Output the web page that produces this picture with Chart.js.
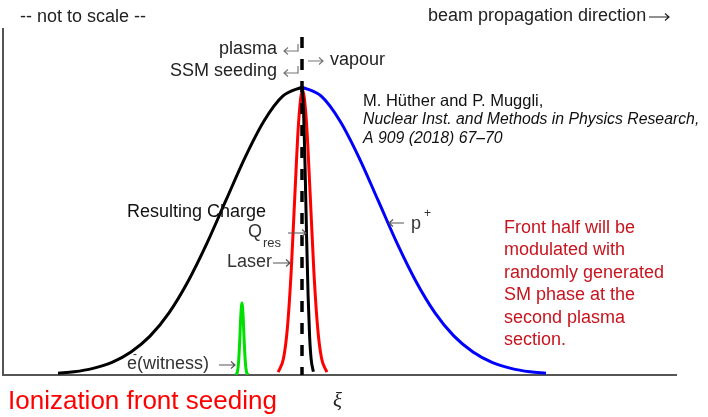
<!DOCTYPE html>
<html>
<head>
<meta charset="utf-8">
<script src="https://cdn.jsdelivr.net/npm/chart.js@4"></script>
<style>
  body { margin: 0; background: #fff; }
</style>
</head>
<body>
<canvas id="myChart" width="708" height="417"></canvas>
<script>
// xi axis in units of the proton bunch rms length, 0 = ionization front
var trailingX = [-3.21, -3.0, -2.75, -2.5, -2.25, -2.0, -1.75, -1.5, -1.25, -1.0, -0.75, -0.5, -0.25, 0];
var trailingY = [0.006, 0.011, 0.023, 0.044, 0.080, 0.135, 0.216, 0.325, 0.458, 0.607, 0.755, 0.882, 0.969, 1.0];
var frontX = [0, 0.25, 0.5, 0.75, 1.0, 1.25, 1.5, 1.75, 2.0, 2.25, 2.5, 2.75, 3.0, 3.21];
var frontY = [1.0, 0.969, 0.882, 0.755, 0.607, 0.458, 0.325, 0.216, 0.135, 0.080, 0.044, 0.023, 0.011, 0.006];
var laserX = [-0.313, -0.243, -0.193, -0.143, -0.093, -0.043, 0.007, 0.057, 0.107, 0.157, 0.207, 0.257, 0.327];
var laserY = [0.010, 0.058, 0.161, 0.356, 0.630, 0.884, 0.99, 0.884, 0.630, 0.356, 0.161, 0.058, 0.010];
var chargeX = [0, 0.02, 0.04, 0.06, 0.08, 0.10, 0.12, 0.15];
var chargeY = [1.0, 0.923, 0.726, 0.487, 0.278, 0.135, 0.056, 0.011];
var witnessX = [-0.87, -0.85, -0.835, -0.82, -0.805, -0.79, -0.775, -0.76, -0.745, -0.73, -0.71];
var witnessY = [0.001, 0.011, 0.043, 0.114, 0.206, 0.25, 0.206, 0.114, 0.043, 0.011, 0.001];
var frontLineY = [0, 1.174];
var xRange = [-3.934, 4.934];
var yRange = [0, 1.205];

function pts(xs, ys) {
    return xs.map(function(x, i){ return {x: x, y: ys[i]}; });
}

var fontSans = "'Liberation Sans', Arial, sans-serif";

function arrow(ctx, x1, y, x2, color) {
    var dir = x2 > x1 ? 1 : -1;
    ctx.save();
    ctx.strokeStyle = color;
    ctx.lineWidth = 1.2;
    ctx.beginPath();
    ctx.moveTo(x1, y);
    ctx.lineTo(x2, y);
    ctx.moveTo(x2 - dir * 4, y - 3.5);
    ctx.lineTo(x2, y);
    ctx.lineTo(x2 - dir * 4, y + 3.5);
    ctx.stroke();
    ctx.restore();
}

function text(ctx, str, x, y, size, color, align, style) {
    ctx.font = (style || '') + ' ' + size + 'px ' + fontSans;
    ctx.fillStyle = color;
    ctx.textAlign = align || 'left';
    ctx.textBaseline = 'middle';
    ctx.fillText(str, x, y);
}

var annotations = {
    id: 'annotations',
    beforeDatasetsDraw: function(chart) {
        var ctx = chart.ctx, a = chart.chartArea;
        ctx.save();
        ctx.strokeStyle = '#555';
        ctx.lineWidth = 2;
        ctx.beginPath();
        ctx.moveTo(a.left, a.top);
        ctx.lineTo(a.left, a.bottom);
        ctx.lineTo(a.right, a.bottom);
        ctx.stroke();
        ctx.restore();
    },
    afterDraw: function(chart) {
        var ctx = chart.ctx;
        ctx.save();
        text(ctx, '-- not to scale --', 20, 17, 18, '#222');
        text(ctx, 'beam propagation direction', 428, 16, 18, '#222');
        arrow(ctx, 649, 17, 669, '#222');

        text(ctx, 'plasma', 277, 49, 18, '#222', 'right');
        arrow(ctx, 298, 51, 284, '#777');
        text(ctx, 'SSM seeding', 277, 71, 18, '#222', 'right');
        arrow(ctx, 298, 73, 284, '#777');
        ctx.strokeStyle = '#777';
        ctx.lineWidth = 1.2;
        ctx.beginPath();
        ctx.moveTo(298, 44); ctx.lineTo(298, 51.6);
        ctx.moveTo(298, 66); ctx.lineTo(298, 73.6);
        ctx.stroke();
        arrow(ctx, 308, 61, 323, '#777');
        text(ctx, 'vapour', 330, 60, 18, '#222');

        text(ctx, 'M. Hüther and P. Muggli,', 363, 101, 16.5, '#111');
        text(ctx, 'Nuclear Inst. and Methods in Physics Research,', 363, 120, 15.8, '#111', 'left', 'italic');
        text(ctx, 'A 909 (2018) 67\u201370', 363, 139, 15.8, '#111', 'left', 'italic');

        text(ctx, 'Resulting Charge', 127, 212, 18, '#111');
        text(ctx, 'Q', 248, 232, 18, '#333');
        text(ctx, 'res', 263, 243, 13, '#333');
        arrow(ctx, 288, 233, 306, '#555');
        text(ctx, 'Laser', 227, 262, 18, '#333');
        arrow(ctx, 273, 263, 290, '#555');

        arrow(ctx, 404, 223, 389, '#555');
        text(ctx, 'p', 411, 224, 18, '#333');
        text(ctx, '+', 424, 214, 12, '#333');

        var para = ['Front half will be', 'modulated with', 'randomly generated',
                    'SM phase at the', 'second plasma', 'section.'];
        para.forEach(function(line, i){
            text(ctx, line, 504, 228 + i * 22.5, 18, '#c8141e');
        });

        text(ctx, 'e', 127, 364, 18, '#333');
        text(ctx, '-', 133, 355, 12, '#333');
        text(ctx, '(witness)', 137, 364, 18, '#333');
        arrow(ctx, 219, 365, 235, '#555');

        text(ctx, 'Ionization front seeding', 8, 402, 26, '#ff0000');
        ctx.font = "italic 21px 'Liberation Serif', serif";
        ctx.fillStyle = '#222';
        ctx.textAlign = 'left';
        ctx.textBaseline = 'middle';
        ctx.fillText('\u03be', 333, 401);
        ctx.restore();
    }
};

var line = function(label, data, color, width, order, extra) {
    var ds = {
        label: label,
        data: data,
        borderColor: color,
        borderWidth: width,
        pointRadius: 0,
        fill: false,
        cubicInterpolationMode: 'monotone',
        order: order
    };
    for (var k in extra) ds[k] = extra[k];
    return ds;
};

var ctx = document.getElementById('myChart').getContext('2d');
var myChart = new Chart(ctx, {
    type: 'line',
    data: {
        datasets: [
            line('ionization front', pts([0, 0], [frontLineY[1], frontLineY[0]]), '#000', 3.5, 0,
                 {borderDash: [11, 11], cubicInterpolationMode: 'default', tension: 0}),
            line('Q res', pts(chargeX, chargeY), '#000', 3, 1),
            line('Laser', pts(laserX, laserY), '#ff0000', 3, 2),
            line('e- witness', pts(witnessX, witnessY), '#00e000', 3, 3),
            line('p+ front', pts(frontX, frontY), '#0000ff', 3, 4),
            line('p+ back', pts(trailingX, trailingY), '#000', 3, 5)
        ]
    },
    options: {
        responsive: false,
        animation: false,
        devicePixelRatio: 1,
        layout: { padding: { left: 3, right: 31, top: 28, bottom: 42 } },
        plugins: { legend: { display: false }, tooltip: { enabled: false } },
        scales: {
            x: { type: 'linear', min: xRange[0], max: xRange[1], display: false },
            y: { type: 'linear', min: yRange[0], max: yRange[1], display: false }
        }
    },
    plugins: [annotations]
});
</script>
</body>
</html>
